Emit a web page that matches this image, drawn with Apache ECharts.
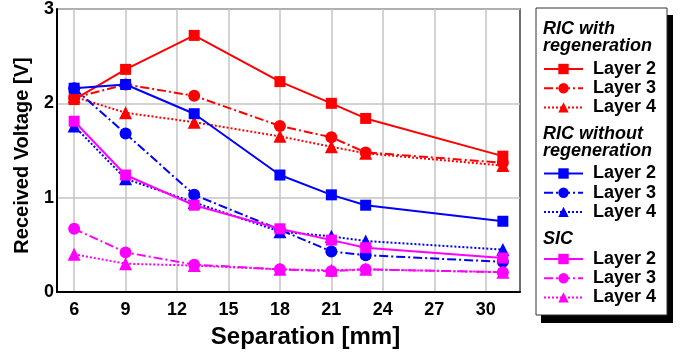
<!DOCTYPE html>
<html><head><meta charset="utf-8">
<script src="https://cdn.jsdelivr.net/npm/echarts@6/dist/echarts.min.js"></script>
<style>html,body{margin:0;padding:0;background:#fff}#c{width:684px;height:354px}</style>
</head><body><div id="c"></div>
<script>
// ---- data ----
const separation = [6, 9, 13, 18, 21, 23, 31];
const xTickValues = [6, 9, 12, 15, 18, 21, 24, 27, 30];
const ricRegenL2 = [2.04, 2.36, 2.72, 2.23, 2.00, 1.84, 1.44];
const ricRegenL3 = [2.06, 2.20, 2.08, 1.76, 1.64, 1.48, 1.37];
const ricRegenL4 = [2.07, 1.90, 1.80, 1.65, 1.54, 1.47, 1.34];
const ricNoRegenL2 = [2.16, 2.20, 1.89, 1.24, 1.03, 0.92, 0.75];
const ricNoRegenL3 = [2.16, 1.68, 1.03, 0.66, 0.43, 0.39, 0.32];
const ricNoRegenL4 = [1.76, 1.20, 0.95, 0.64, 0.59, 0.54, 0.45];
const sicL2 = [1.81, 1.24, 0.92, 0.67, 0.55, 0.47, 0.36];
const sicL3 = [0.67, 0.42, 0.29, 0.24, 0.22, 0.24, 0.21];
const sicL4 = [0.40, 0.30, 0.28, 0.24, 0.23, 0.24, 0.21];
const groupTitles = ['RIC with\nregeneration', 'RIC without\nregeneration', 'SIC'];
const layerNames = ['Layer 2', 'Layer 3', 'Layer 4'];
const xAxisTitle = 'Separation [mm]';
const yAxisTitle = 'Received Voltage [V]';

// ---- styles ----
const FONT = "'Liberation Sans', Arial, Helvetica, sans-serif";
const groupColors = ['#ff0000', '#0000ff', '#ff00ff'];
const layerSymbols = ['rect', 'circle', 'triangle'];
const layerSymbolSizes = [11, 12, 13];
const layerLineTypes = ['solid', [9, 3, 2, 3], [2, 2]];
const groupData = [
  [ricRegenL2, ricRegenL3, ricRegenL4],
  [ricNoRegenL2, ricNoRegenL3, ricNoRegenL4],
  [sicL2, sicL3, sicL4]
];

const series = [];
const legends = [];
const legendTops = [60, 164.5, 250];
groupData.forEach((g, gi) => {
  const names = [];
  g.forEach((vals, li) => {
    const name = groupTitles[gi].replace('\n', ' ') + '|' + layerNames[li];
    names.push(name);
    series.push({
      name: name,
      type: 'line',
      data: separation.map((x, i) => [x, vals[i]]),
      symbol: layerSymbols[li],
      symbolSize: layerSymbolSizes[li],
      showAllSymbol: true,
      color: groupColors[gi],
      lineStyle: { width: 2, type: layerLineTypes[li], color: groupColors[gi] },
      itemStyle: { color: groupColors[gi] },
      z: 2 + gi,
      animation: false
    });
  });
  legends.push({
    orient: 'vertical',
    left: 543,
    top: legendTops[gi],
    itemWidth: 39,
    itemHeight: 13,
    itemGap: 1.2,
    padding: 0,
    data: names,
    selectedMode: false,
    formatter: n => n.split('|')[1],
    textStyle: { fontFamily: FONT, fontSize: 18, fontWeight: 'bold', color: '#000', padding: [0, 0, 0, 5] },
    z: 10
  });
});

const titleTexts = [
  { text: groupTitles[0], top: 20 },
  { text: groupTitles[1], top: 125 },
  { text: groupTitles[2], top: 230 }
];

const chart = echarts.init(document.getElementById('c'), null, { renderer: 'canvas' });
chart.setOption({
  animation: false,
  backgroundColor: '#fff',
  grid: { left: 57, top: 9, width: 463, height: 283.5, show: true, borderColor: '#404040', borderWidth: 1.5, containLabel: false },
  xAxis: {
    type: 'value', min: 5, max: 32,
    name: xAxisTitle, nameLocation: 'middle', nameGap: 33,
    nameTextStyle: { fontFamily: FONT, fontSize: 24, fontWeight: 'bold', color: '#000', padding: [0, 0, 0, 34] },
    axisLine: { show: true, onZero: false, lineStyle: { color: '#000', width: 2 } },
    axisTick: { show: false, customValues: xTickValues },
    axisLabel: { customValues: xTickValues, margin: 9, fontFamily: FONT, fontSize: 18, fontWeight: 'bold', color: '#000' },
    splitLine: { show: true, lineStyle: { color: '#c4c4c4', width: 1.5 } }
  },
  yAxis: {
    type: 'value', min: 0, max: 3, interval: 1,
    name: yAxisTitle, nameLocation: 'middle', nameGap: 25,
    nameTextStyle: { fontFamily: FONT, fontSize: 20, fontWeight: 'bold', color: '#000', padding: [0, 10, 0, 0] },
    axisLine: { show: true, lineStyle: { color: '#000', width: 2 } },
    axisTick: { show: false },
    axisLabel: { margin: 3, fontFamily: FONT, fontSize: 18, fontWeight: 'bold', color: '#000' },
    splitLine: { show: true, lineStyle: { color: '#c4c4c4', width: 1.5 } }
  },
  legend: legends,
  graphic: [
    { type: 'rect', shape: { x: 541, y: 15, width: 132, height: 308 }, style: { fill: '#000' }, z: 1 },
    { type: 'rect', shape: { x: 536, y: 8, width: 131, height: 307 }, style: { fill: '#fff', stroke: '#333', lineWidth: 1 }, z: 2 }
  ].concat(titleTexts.map(t => ({
    type: 'text', left: 543, top: t.top, z: 3,
    style: { text: t.text, fill: '#000', font: "italic bold 18px " + FONT, lineHeight: 17 }
  }))),
  series: series
});
</script>
</body></html>
